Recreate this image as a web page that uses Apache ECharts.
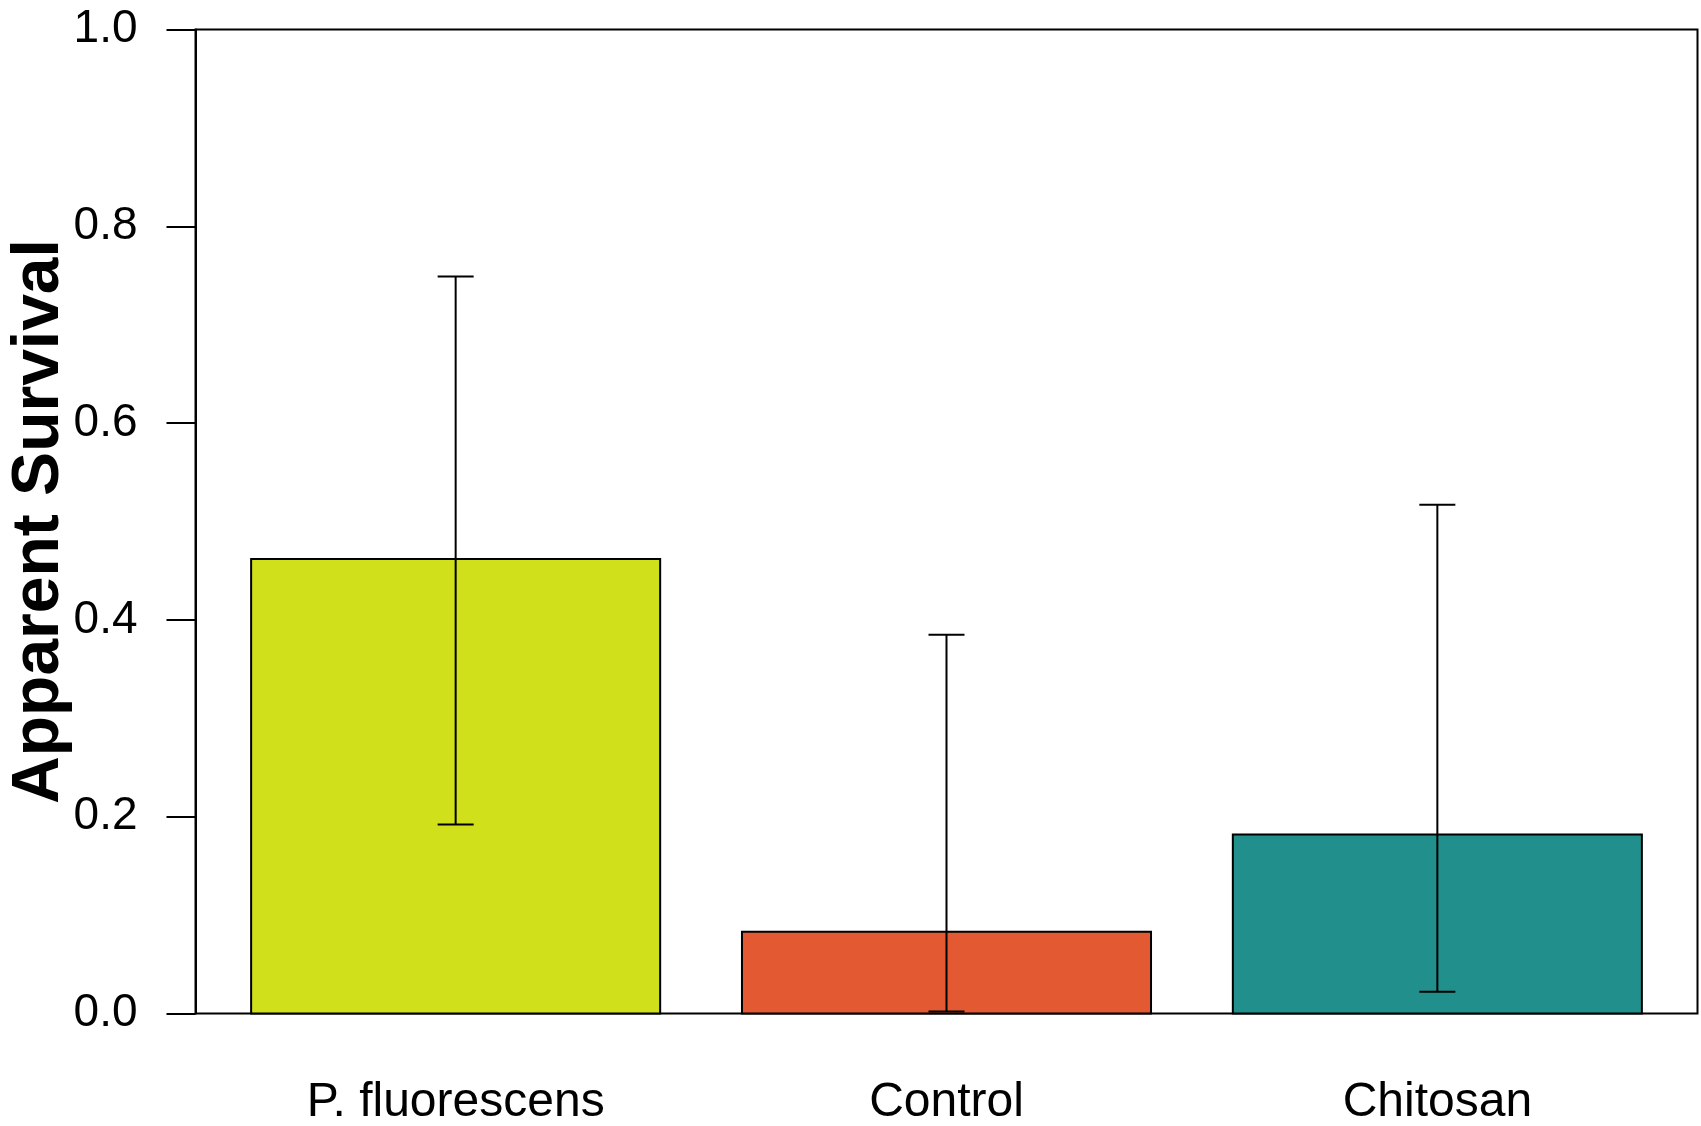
<!DOCTYPE html>
<html>
<head>
<meta charset="utf-8">
<script src="https://cdn.jsdelivr.net/npm/echarts@6/dist/echarts.min.js"></script>
<style>
  html, body { margin: 0; padding: 0; background: #ffffff; }
  #chart { width: 1701px; height: 1126px; }
</style>
</head>
<body>
<div id="chart"></div>
<script>
// Apparent survival by treatment, with confidence intervals
const categories = ['P. fluorescens', 'Control', 'Chitosan'];
const survival = [0.462, 0.083, 0.182];
const lowerCI = [0.192, 0.002, 0.022];
const upperCI = [0.749, 0.385, 0.517];
const barColors = ['#D0E11C', '#E35932', '#21908C'];
const yTicks = [0.0, 0.2, 0.4, 0.6, 0.8, 1.0];

// Bar layout in plot units: width 1 with 0.2 spacing, centres at 0.7, 1.9, 3.1
const barWidth = 1;
const barSpace = 0.2;
const centers = categories.map((_, i) => barSpace + barWidth / 2 + i * (barWidth + barSpace));
const xLeft = barSpace;
const xRight = categories.length * (barWidth + barSpace);
const pad = (xRight - xLeft) * 0.04;

const FONT = '"Liberation Sans", Arial, Helvetica, sans-serif';

const barData = categories.map((c, i) => [centers[i], survival[i], i]);
const errData = categories.map((c, i) => [centers[i], lowerCI[i], upperCI[i]]);

const chart = echarts.init(document.getElementById('chart'), null, { renderer: 'canvas' });

chart.setOption({
  animation: false,
  backgroundColor: '#ffffff',
  grid: {
    left: 195.5, right: 3.5, top: 29.5, bottom: 112.5,
    outerBoundsMode: 'none',
    containLabel: false,
    show: true, borderColor: '#000000', borderWidth: 2, backgroundColor: 'transparent'
  },
  xAxis: {
    type: 'value',
    min: xLeft - pad,
    max: xRight + pad,
    splitLine: { show: false },
    axisLine: { show: false },
    axisTick: { show: false },
    axisLabel: {
      customValues: centers,
      formatter: function (v) {
        let best = 0;
        centers.forEach((c, i) => { if (Math.abs(c - v) < Math.abs(centers[best] - v)) best = i; });
        return categories[best];
      },
      fontFamily: FONT,
      fontSize: 48,
      color: '#000000',
      margin: 65
    }
  },
  yAxis: {
    type: 'value',
    min: 0,
    max: 1,
    interval: 0.2,
    name: 'Apparent Survival',
    nameLocation: 'middle',
    nameRotate: 90,
    nameGap: 123,
    nameMoveOverlap: false,
    nameTextStyle: { fontFamily: FONT, fontSize: 66, fontWeight: 'bold', color: '#000000' },
    splitLine: { show: false },
    axisLine: { show: true, lineStyle: { color: '#000000', width: 2 } },
    axisTick: { show: true, inside: false, length: 29, lineStyle: { color: '#000000', width: 2 } },
    axisLabel: {
      formatter: v => v.toFixed(1),
      fontFamily: FONT,
      fontSize: 46,
      color: '#000000',
      margin: 58
    }
  },
  series: [
    {
      type: 'custom',
      name: 'survival',
      data: barData,
      encode: { x: 0, y: 1 },
      renderItem: function (params, api) {
        const x = api.value(0);
        const v = api.value(1);
        const idx = api.value(2);
        const p0 = api.coord([x - barWidth / 2, v]);
        const p1 = api.coord([x + barWidth / 2, 0]);
        return {
          type: 'rect',
          shape: { x: p0[0], y: p0[1], width: p1[0] - p0[0], height: p1[1] - p0[1] },
          style: { fill: barColors[idx], stroke: '#000000', lineWidth: 2 }
        };
      },
      z: 2
    },
    {
      type: 'custom',
      name: 'ci',
      data: errData,
      encode: { x: 0, y: [1, 2] },
      renderItem: function (params, api) {
        const x = api.value(0);
        const lo = api.coord([x, api.value(1)]);
        const hi = api.coord([x, api.value(2)]);
        const cap = 18;
        const st = { stroke: '#000000', lineWidth: 2 };
        return {
          type: 'group',
          children: [
            { type: 'line', shape: { x1: lo[0], y1: lo[1], x2: hi[0], y2: hi[1] }, style: st },
            { type: 'line', shape: { x1: hi[0] - cap, y1: hi[1], x2: hi[0] + cap, y2: hi[1] }, style: st },
            { type: 'line', shape: { x1: lo[0] - cap, y1: lo[1], x2: lo[0] + cap, y2: lo[1] }, style: st }
          ]
        };
      },
      z: 3
    }
  ]
});
</script>
</body>
</html>
